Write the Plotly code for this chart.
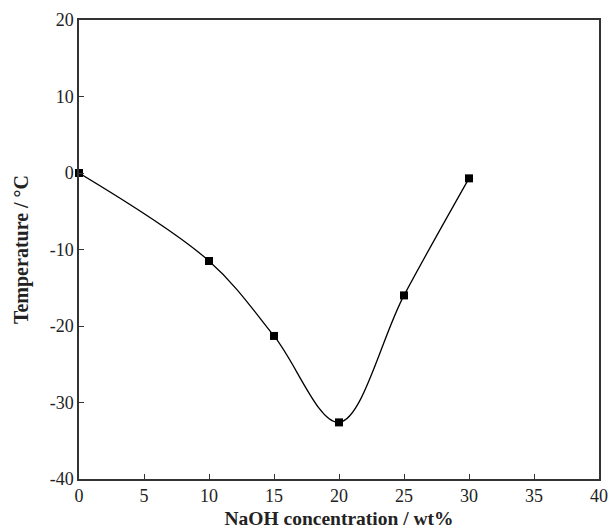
import plotly.graph_objects as go

naoh_wt = [0, 10, 15, 20, 25, 30]
temperature = [0, -11.5, -21.3, -32.6, -16.0, -0.7]
x_ticks = [0, 5, 10, 15, 20, 25, 30, 35, 40]
y_ticks = [-40, -30, -20, -10, 0, 10, 20]
y_tick_labels = ["-40", "-30", "-20", "-10", "0", "10", "20"]

fig = go.Figure()
fig.add_trace(go.Scatter(
    x=naoh_wt, y=temperature, mode="lines+markers",
    line=dict(color="black", width=1.3, shape="spline", smoothing=1.0),
    marker=dict(symbol="square", size=8, color="black"),
    cliponaxis=False, showlegend=False,
))

font = dict(family="Liberation Serif, Times New Roman, serif", color="#222", size=18)
fig.update_layout(
    width=609, height=530,
    margin=dict(l=79, r=10, t=20, b=51, autoexpand=False),
    paper_bgcolor="white", plot_bgcolor="white",
    font=font,
)
fig.update_xaxes(
    range=[0, 40], tickvals=x_ticks, ticks="inside", ticklen=5, tickcolor="#333",
    showline=True, linecolor="#333", linewidth=1.5, mirror=True, showgrid=False, zeroline=False,
    automargin=False,
    title=dict(text="<b>NaOH concentration / wt%</b>", font=dict(size=19.5), standoff=6),
)
fig.update_yaxes(
    range=[-40, 20], tickvals=y_ticks, ticktext=y_tick_labels, ticks="inside", ticklen=5, tickcolor="#333",
    showline=True, linecolor="#333", linewidth=1.5, mirror=True, showgrid=False, zeroline=False,
    automargin=False,
    title=dict(text="<b>Temperature / °C</b>", font=dict(size=20), standoff=16),
)
fig.write_html(
    "out.html",
    config={"displayModeBar": False},
    post_script="document.body.style.margin='0';document.body.style.overflow='hidden';",
)
